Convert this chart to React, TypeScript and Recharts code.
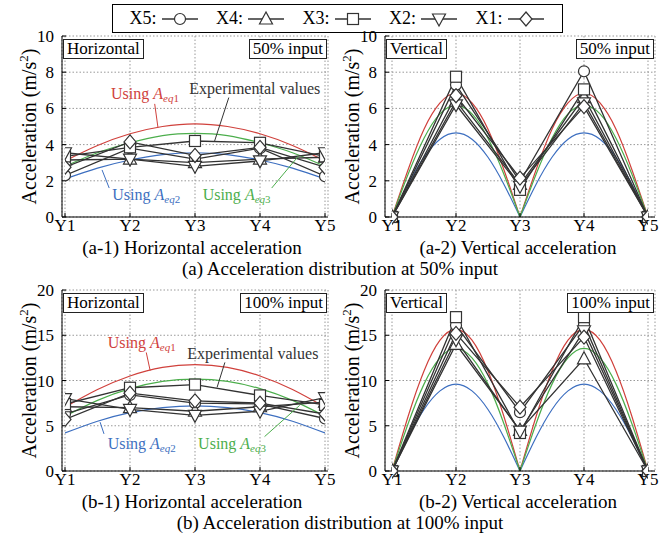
import React from 'react';
import { LineChart, Line, XAxis, YAxis, CartesianGrid, ReferenceLine, ReferenceDot } from 'recharts';

const FONT = '"Liberation Serif", "Times New Roman", serif';
const INK = '#333';
const RED = '#d0413c';
const BLUE = '#3d6fc0';
const GREEN = '#4cae4c';

const positions = [1, 2, 3, 4, 5];
const seriesNames = ['X5', 'X4', 'X3', 'X2', 'X1'];
const markerKinds = ['circle', 'triangle', 'square', 'down', 'diamond'];

// measured values, 50% input
const h50X5 = [2.3, 3.8, 3.2, 3.8, 2.25];
const h50X4 = [3.15, 3.2, 3.0, 3.2, 3.3];
const h50X3 = [3.35, 3.85, 4.2, 4.1, 3.35];
const h50X2 = [3.55, 3.2, 2.8, 3.1, 3.55];
const h50X1 = [2.75, 4.15, 3.4, 3.85, 2.75];
const v50X5 = [0, 7.3, 1.95, 8.05, 0];
const v50X4 = [0, 6.4, 1.8, 6.6, 0];
const v50X3 = [0, 7.75, 1.5, 7.05, 0];
const v50X2 = [0, 6.2, 1.7, 6.3, 0];
const v50X1 = [0, 6.7, 2.15, 6.1, 0];

// measured values, 100% input
const h100X5 = [6.3, 8.4, 7.5, 7.4, 5.8];
const h100X4 = [7.1, 7.0, 6.6, 7.1, 7.6];
const h100X3 = [7.4, 9.2, 9.55, 8.35, 7.3];
const h100X2 = [8.0, 6.8, 6.15, 6.6, 8.1];
const h100X1 = [5.7, 8.6, 7.75, 7.5, 6.3];
const v100X5 = [0, 16.1, 6.5, 16.2, 0];
const v100X4 = [0, 14.0, 4.5, 12.4, 0];
const v100X3 = [0, 17.0, 4.2, 17.0, 0];
const v100X2 = [0, 14.5, 4.4, 15.5, 0];
const v100X1 = [0, 15.2, 7.05, 14.8, 0];

// estimated curves (Using Aeq1 / Aeq2 / Aeq3)
const halfSteps = [1, 1.5, 2, 2.5, 3, 3.5, 4, 4.5, 5];
const archLeft = [1, 1.25, 1.5, 1.75, 2, 2.25, 2.5, 2.75, 3];
const archRight = [3, 3.25, 3.5, 3.75, 4, 4.25, 4.5, 4.75, 5];

const h50Eq1 = [3.1, 3.95, 4.6, 5.0, 5.15, 5.0, 4.6, 3.95, 3.1];
const h50Eq2 = [2.1, 2.7, 3.15, 3.45, 3.55, 3.45, 3.15, 2.7, 2.1];
const h50Eq3 = [2.8, 3.55, 4.1, 4.5, 4.62, 4.5, 4.1, 3.55, 2.8];
const v50Eq1 = [0, 2.6, 4.85, 6.3, 6.85, 6.3, 4.85, 2.6, 0];
const v50Eq2 = [0, 1.8, 3.3, 4.3, 4.65, 4.3, 3.3, 1.8, 0];
const v50Eq3 = [0, 2.35, 4.35, 5.7, 6.15, 5.7, 4.35, 2.35, 0];

const h100Eq1 = [7.05, 9.0, 10.5, 11.45, 11.75, 11.45, 10.5, 9.0, 7.05];
const h100Eq2 = [4.2, 5.5, 6.45, 7.0, 7.2, 7.0, 6.45, 5.5, 4.2];
const h100Eq3 = [6.05, 7.8, 9.1, 9.9, 10.15, 9.9, 9.1, 7.8, 6.05];
const v100Eq1 = [0, 6.0, 11.05, 14.45, 15.65, 14.45, 11.05, 6.0, 0];
const v100Eq2 = [0, 3.7, 6.8, 8.85, 9.6, 8.85, 6.8, 3.7, 0];
const v100Eq3 = [0, 5.2, 9.6, 12.5, 13.55, 12.5, 9.6, 5.2, 0];

const toPts = (xs: number[], ys: number[]) => xs.map((x, i) => ({ x, y: ys[i] }));

function Marker({ kind, cx, cy }: { kind: string; cx: number; cy: number }) {
  const p = { fill: '#fff', stroke: INK, strokeWidth: 1.2 };
  if (kind === 'circle') return <circle cx={cx} cy={cy} r={5.5} {...p} />;
  if (kind === 'square') return <rect x={cx - 5.5} y={cy - 5.5} width={11} height={11} {...p} />;
  if (kind === 'triangle')
    return <polygon points={`${cx},${cy - 7} ${cx - 6.5},${cy + 5} ${cx + 6.5},${cy + 5}`} {...p} />;
  if (kind === 'down')
    return <polygon points={`${cx},${cy + 7} ${cx - 6.5},${cy - 5} ${cx + 6.5},${cy - 5}`} {...p} />;
  return <polygon points={`${cx},${cy - 7} ${cx + 6},${cy} ${cx},${cy + 7} ${cx - 6},${cy}`} {...p} />;
}

function NoteText({ cx, cy, color, eq }: { cx: number; cy: number; color: string; eq?: string }) {
  return (
    <text x={cx} y={cy} textAnchor="middle" fill={color} fontSize={16} fontFamily={FONT}>
      {eq ? 'Using ' : 'Experimental values'}
      {eq && <tspan fontStyle="italic">A</tspan>}
      {eq && (
        <tspan fontSize={11} dy={3}>
          <tspan fontStyle="italic">eq</tspan>
          {eq}
        </tspan>
      )}
    </text>
  );
}

const renderYLabel = (props: any) => {
  const { x, y, height } = props.viewBox;
  const cx = x + 14;
  const cy = y + height / 2;
  return (
    <text transform={`rotate(-90, ${cx}, ${cy})`} x={cx} y={cy} textAnchor="middle" fontSize={20} fontFamily={FONT} fill="#000">
      Acceleration (m/s<tspan fontSize={13} dy={-8}>2</tspan>
      <tspan dy={8}>)</tspan>
    </text>
  );
};

type Note = { eq?: string; color: string; at: [number, number]; from: [number, number]; to: [number, number] };

type PanelProps = {
  x: number;
  y: number;
  width: number;
  plotLeft: number;
  plotRight: number;
  pad: number;
  yMax: number;
  yTicks: number[];
  measured: number[][];
  curves: number[][];
  arch: boolean;
  tag: string;
  input: string;
  notes: Note[];
};

function Panel({ x, y, width, plotLeft, plotRight, pad, yMax, yTicks, measured, curves, arch, tag, input, notes }: PanelProps) {
  const colors = [RED, BLUE, GREEN];
  const tickStyle = { fill: '#000', fontSize: 17, fontFamily: FONT };
  const boxStyle: React.CSSProperties = {
    position: 'absolute',
    top: 13,
    border: '1px solid #222',
    background: '#fff',
    fontSize: 17,
    lineHeight: '18px',
    padding: '0 3px',
    color: '#000',
  };
  return (
    <div style={{ position: 'absolute', left: x, top: y }}>
      <LineChart width={width} height={218} margin={{ top: 10, right: width - plotRight, bottom: 0, left: plotLeft - 40 }}>
        <CartesianGrid stroke="#999" strokeDasharray="1.5 2" />
        <XAxis
          dataKey="x"
          type="number"
          domain={[1, 5]}
          ticks={positions}
          tickFormatter={(v) => 'Y' + v}
          padding={{ left: pad, right: pad }}
          height={27}
          tickSize={-4}
          tickMargin={6}
          stroke="#000"
          tick={tickStyle}
          allowDataOverflow
        />
        <XAxis xAxisId="top" orientation="top" type="number" domain={[1, 5]} height={0} tick={false} tickLine={false} stroke="#000" />
        <YAxis
          type="number"
          domain={[0, yMax]}
          ticks={yTicks}
          width={40}
          tickSize={-4}
          tickMargin={12}
          stroke="#000"
          tick={tickStyle}
          label={{ content: renderYLabel }}
        />
        <YAxis yAxisId="right" orientation="right" domain={[0, yMax]} width={0} tick={false} tickLine={false} stroke="#000" />
        {curves.map((c, i) =>
          arch ? (
            [archLeft, archRight].map((xs, j) => (
              <Line
                key={`c${i}-${j}`}
                data={toPts(xs, c)}
                dataKey="y"
                type="natural"
                stroke={colors[i]}
                strokeWidth={1.2}
                dot={false}
                isAnimationActive={false}
              />
            ))
          ) : (
            <Line
              key={`c${i}`}
              data={toPts(halfSteps, c)}
              dataKey="y"
              type="natural"
              stroke={colors[i]}
              strokeWidth={1.2}
              dot={false}
              isAnimationActive={false}
            />
          )
        )}
        {measured.map((m, i) => (
          <Line
            key={seriesNames[i]}
            name={seriesNames[i]}
            data={toPts(positions, m)}
            dataKey="y"
            type="linear"
            stroke={INK}
            strokeWidth={1.3}
            isAnimationActive={false}
            dot={(p: any) => <Marker key={p.index} kind={markerKinds[i]} cx={p.cx} cy={p.cy} />}
          />
        ))}
        {notes.map((n, i) => (
          <ReferenceLine
            key={`l${i}`}
            segment={[
              { x: n.from[0], y: n.from[1] },
              { x: n.to[0], y: n.to[1] },
            ]}
            stroke={n.color}
            strokeWidth={1}
            ifOverflow="visible"
          />
        ))}
        {notes.map((n, i) => (
          <ReferenceDot
            key={`t${i}`}
            x={n.at[0]}
            y={n.at[1]}
            r={0}
            ifOverflow="visible"
            shape={(p: any) => <NoteText cx={p.cx} cy={p.cy} color={n.color} eq={n.eq} />}
          />
        ))}
      </LineChart>
      <div style={{ ...boxStyle, left: plotLeft + 1 }}>{tag}</div>
      <div style={{ ...boxStyle, right: width - plotRight + 1 }}>{input}</div>
    </div>
  );
}

const notes50: Note[] = [
  { eq: '1', color: RED, at: [2.23, 6.5], from: [2.38, 6.25], to: [2.43, 4.95] },
  { color: INK, at: [3.92, 6.8], from: [3.52, 6.6], to: [3.3, 4.18] },
  { eq: '2', color: BLUE, at: [2.25, 0.94], from: [1.68, 1.6], to: [1.57, 2.6] },
  { eq: '3', color: GREEN, at: [3.64, 0.94], from: [4.18, 1.6], to: [4.59, 3.36] },
];

const notes100: Note[] = [
  { eq: '1', color: RED, at: [2.18, 13.6], from: [2.25, 13.1], to: [2.31, 11.1] },
  { color: INK, at: [3.89, 12.4], from: [3.46, 12.0], to: [3.34, 9.25] },
  { eq: '2', color: BLUE, at: [2.18, 2.45], from: [1.6, 4.1], to: [1.54, 5.4] },
  { eq: '3', color: GREEN, at: [3.57, 2.45], from: [4.07, 3.8], to: [4.61, 7.25] },
];

function LegendItem({ name, kind }: { name: string; kind: string }) {
  return (
    <span style={{ display: 'inline-flex', alignItems: 'center' }}>
      {name}:
      <svg width={40} height={20} style={{ marginLeft: 3 }}>
        <line x1={2} y1={10} x2={38} y2={10} stroke={INK} strokeWidth={1.3} />
        <Marker kind={kind} cx={20} cy={10} />
      </svg>
    </span>
  );
}

const caption = (text: string, cx: number, cy: number, w: number) => (
  <div
    style={{
      position: 'absolute',
      left: cx - w / 2,
      top: cy - 9.5,
      width: w,
      textAlign: 'center',
      fontSize: 19,
      lineHeight: '19px',
      color: '#000',
    }}
  >
    {text}
  </div>
);

export default function App() {
  return (
    <div style={{ position: 'absolute', left: 0, top: 0, width: 671, height: 535, background: '#fff', fontFamily: FONT }}>
      <div
        style={{
          position: 'absolute',
          left: 112,
          top: 4,
          width: 451,
          height: 29,
          border: '1px solid #000',
          boxSizing: 'border-box',
          display: 'flex',
          justifyContent: 'space-evenly',
          alignItems: 'center',
          fontSize: 18,
          color: '#000',
        }}
      >
        {seriesNames.map((s, i) => (
          <LegendItem key={s} name={s} kind={markerKinds[i]} />
        ))}
      </div>
      <Panel
        x={0}
        y={26}
        width={340}
        plotLeft={62}
        plotRight={328}
        pad={3}
        yMax={10}
        yTicks={[0, 2, 4, 6, 8, 10]}
        measured={[h50X5, h50X4, h50X3, h50X2, h50X1]}
        curves={[h50Eq1, h50Eq2, h50Eq3]}
        arch={false}
        tag="Horizontal"
        input="50% input"
        notes={notes50}
      />
      <Panel
        x={330}
        y={26}
        width={332}
        plotLeft={55}
        plotRight={325}
        pad={7}
        yMax={10}
        yTicks={[0, 2, 4, 6, 8, 10]}
        measured={[v50X5, v50X4, v50X3, v50X2, v50X1]}
        curves={[v50Eq1, v50Eq2, v50Eq3]}
        arch={true}
        tag="Vertical"
        input="50% input"
        notes={[]}
      />
      <Panel
        x={0}
        y={280}
        width={340}
        plotLeft={62}
        plotRight={328}
        pad={3}
        yMax={20}
        yTicks={[0, 5, 10, 15, 20]}
        measured={[h100X5, h100X4, h100X3, h100X2, h100X1]}
        curves={[h100Eq1, h100Eq2, h100Eq3]}
        arch={false}
        tag="Horizontal"
        input="100% input"
        notes={notes100}
      />
      <Panel
        x={330}
        y={280}
        width={332}
        plotLeft={55}
        plotRight={325}
        pad={7}
        yMax={20}
        yTicks={[0, 5, 10, 15, 20]}
        measured={[v100X5, v100X4, v100X3, v100X2, v100X1]}
        curves={[v100Eq1, v100Eq2, v100Eq3]}
        arch={true}
        tag="Vertical"
        input="100% input"
        notes={[]}
      />
      {caption('(a-1) Horizontal acceleration', 192, 247, 300)}
      {caption('(a-2) Vertical acceleration', 518, 247, 300)}
      {caption('(a) Acceleration distribution at 50% input', 340, 268, 420)}
      {caption('(b-1) Horizontal acceleration', 192, 501, 300)}
      {caption('(b-2) Vertical acceleration', 518, 501, 300)}
      {caption('(b) Acceleration distribution at 100% input', 340, 522, 420)}
    </div>
  );
}
